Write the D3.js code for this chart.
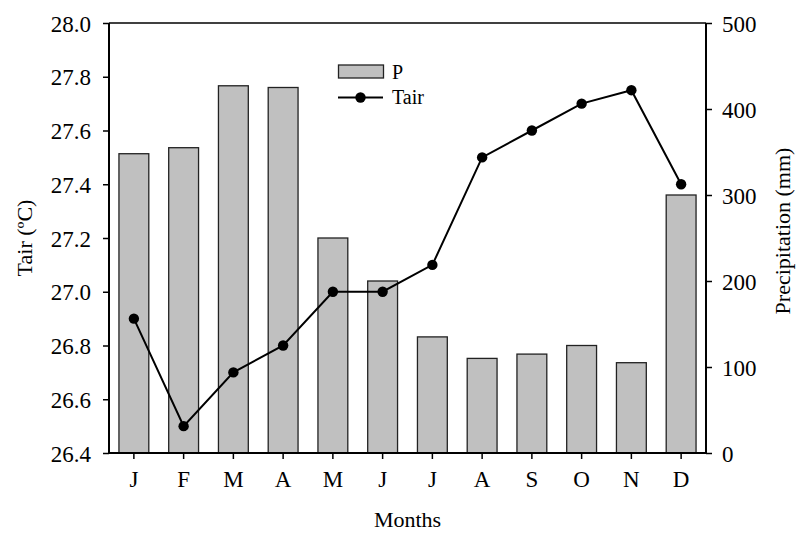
<!DOCTYPE html>
<html><head><meta charset="utf-8">
<script src="https://cdn.jsdelivr.net/npm/d3@7"></script>
<style>body{margin:0;background:#fff}svg{display:block}text{font-family:"Liberation Serif","Times New Roman",serif;fill:#000}</style>
</head><body><svg id="c" width="797" height="533"></svg>
<script>
const months = ["J","F","M","A","M","J","J","A","S","O","N","D"];
const precip = [348, 355, 427, 425, 250, 200, 135, 110, 115, 125, 105, 300];
const tair = [26.9, 26.5, 26.7, 26.8, 27.0, 27.0, 27.1, 27.5, 27.6, 27.7, 27.75, 27.4];
const tairTicks = [26.4, 26.6, 26.8, 27.0, 27.2, 27.4, 27.6, 27.8, 28.0];
const precipTicks = [0, 100, 200, 300, 400, 500];

const svg = d3.select("#c");
const L = 109, R = 706, T = 23, B = 453;
const idx = months.map((d,i)=>i);
const x = d3.scaleBand().domain(idx).range([L,R]).paddingInner(0.4).paddingOuter(0.2);
const yT = d3.scaleLinear().domain([26.4,28.0]).range([B,T]);
const yP = d3.scaleLinear().domain([0,500]).range([B,T]);

// bars
svg.append("g").selectAll("rect").data(precip).join("rect")
  .attr("x",(d,i)=>x(i)).attr("width",x.bandwidth())
  .attr("y",d=>yP(d)).attr("height",d=>B-yP(d))
  .attr("fill","#c0c0c0").attr("stroke","#222").attr("stroke-width",1.3);

// frame top
svg.append("line").attr("x1",L).attr("x2",R).attr("y1",T).attr("y2",T).attr("stroke","#000").attr("stroke-width",1.5);

// axes
const fs = "23px";
const gl = svg.append("g").attr("transform",`translate(${L},0)`)
  .call(d3.axisLeft(yT).tickValues(tairTicks).tickFormat(d3.format(".1f")).tickSize(6).tickPadding(12));
const gr = svg.append("g").attr("transform",`translate(${R},0)`)
  .call(d3.axisRight(yP).tickValues(precipTicks).tickSize(6).tickPadding(10));
const gb = svg.append("g").attr("transform",`translate(0,${B})`)
  .call(d3.axisBottom(x).tickFormat(i=>months[i]).tickSize(6).tickPadding(12));
[gl,gr,gb].forEach(g=>{
  g.attr("font-family",null).attr("font-size",null);
  g.selectAll("path.domain").remove();
  g.selectAll("line").attr("stroke","#000").attr("stroke-width",1.5);
  g.selectAll("text").style("font-size",fs).style("font-family","'Liberation Serif', serif").attr("fill","#000");
});
svg.append("line").attr("x1",L).attr("x2",L).attr("y1",T).attr("y2",B).attr("stroke","#000").attr("stroke-width",2);
svg.append("line").attr("x1",R).attr("x2",R).attr("y1",T).attr("y2",B).attr("stroke","#000").attr("stroke-width",2);
svg.append("line").attr("x1",L).attr("x2",R).attr("y1",B).attr("y2",B).attr("stroke","#000").attr("stroke-width",2);
gl.selectAll("text").attr("dy","0.35em");
gr.selectAll("text").attr("dy","0.35em");

// line
const line = d3.line().x((d,i)=>x(i)+x.bandwidth()/2).y(d=>yT(d));
svg.append("path").datum(tair).attr("d",line).attr("fill","none").attr("stroke","#000").attr("stroke-width",2);
svg.append("g").selectAll("circle").data(tair).join("circle")
  .attr("cx",(d,i)=>x(i)+x.bandwidth()/2).attr("cy",d=>yT(d)).attr("r",5.2).attr("fill","#000");

// legend
const lg = svg.append("g");
lg.append("rect").attr("x",338.5).attr("y",65).attr("width",45).attr("height",13).attr("fill","#c0c0c0").attr("stroke","#222").attr("stroke-width",1.3);
lg.append("text").attr("x",392).attr("y",79).text("P").style("font-size","20px");
lg.append("line").attr("x1",338).attr("x2",383).attr("y1",97.5).attr("y2",97.5).attr("stroke","#000").attr("stroke-width",2);
lg.append("circle").attr("cx",360.5).attr("cy",97.5).attr("r",5.2).attr("fill","#000");
lg.append("text").attr("x",392).attr("y",104).text("Tair").style("font-size","20px");

// axis titles
svg.append("text").attr("x",(L+R)/2).attr("y",527).attr("text-anchor","middle").style("font-size","22px").text("Months");
svg.append("text").attr("transform",`translate(32,${(T+B)/2}) rotate(-90)`).attr("text-anchor","middle").style("font-size","22px").text("Tair (ºC)");
svg.append("text").attr("transform",`translate(790,${(T+B)/2-7}) rotate(-90)`).attr("text-anchor","middle").style("font-size","22px").text("Precipitation (mm)");
</script></body></html>
